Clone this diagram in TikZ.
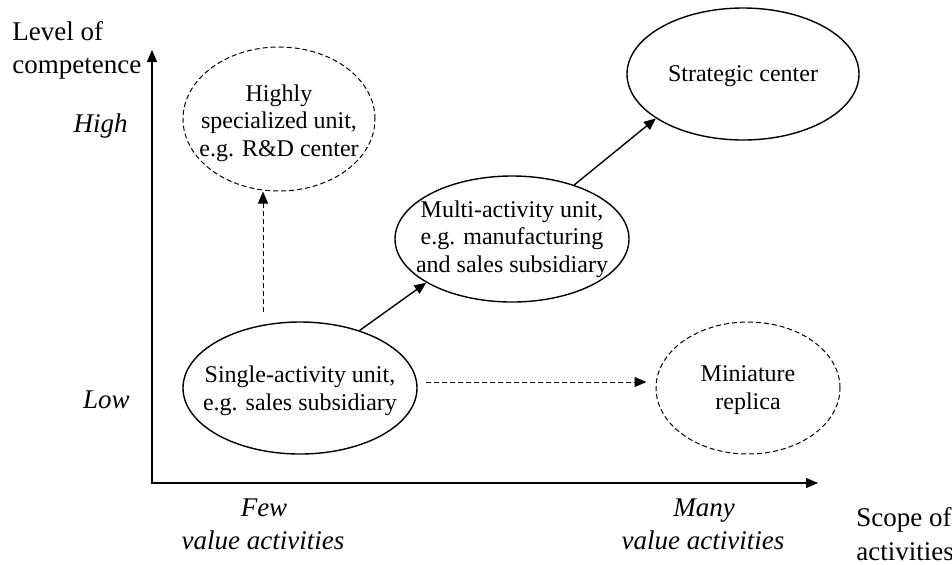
\documentclass[tikz,border=0pt]{standalone}
\usepackage{fontspec}
\setmainfont{Liberation Serif}
\usetikzlibrary{shapes.geometric,arrows.meta}

\begin{document}
\begin{tikzpicture}[x=0.5pt,y=-0.5pt,
  unitbox/.style={ellipse,draw,line width=0.7pt,inner sep=0pt},
  planned/.style={unitbox,line width=0.5pt,dash pattern=on 2.5pt off 1.5pt},
  unittext/.style={align=center,inner sep=0pt,font=\fontsize{12}{13.8}\selectfont},
  axislabel/.style={anchor=base,inner sep=0pt,font=\fontsize{13.5}{16.5}\selectfont},
  upgrade/.style={-{Triangle[length=6pt,width=5pt]},line width=0.7pt},
  possible/.style={upgrade,line width=0.5pt,dash pattern=on 2.5pt off 1.5pt}]
\useasboundingbox (0,0) rectangle (952,564);
\coordinate (origin) at (152,483);
\coordinate (ytip) at (152,50);
\coordinate (xtip) at (818,483);
\draw[{Triangle[length=6pt,width=5pt]}-{Triangle[length=6pt,width=5pt]},line width=0.7pt] (ytip) -- (origin) -- (xtip);
\node[axislabel,anchor=base west] (level) at (12,40) {Level of};
\node[axislabel,anchor=base west] (competence) at (12,73) {competence};
\node[axislabel,anchor=base east,font=\fontsize{13.5}{16.5}\selectfont\itshape] (high) at (128,132) {High};
\node[axislabel,anchor=base east,font=\fontsize{13.5}{16.5}\selectfont\itshape] (low) at (130,408) {Low};
\node[axislabel,font=\fontsize{13.5}{16.5}\selectfont\itshape] (few) at (264,516) {Few};
\node[axislabel,font=\fontsize{13.5}{16.5}\selectfont\itshape] (fewvalue) at (263,549) {value activities};
\node[axislabel,font=\fontsize{13.5}{16.5}\selectfont\itshape] (many) at (704,516) {Many};
\node[axislabel,font=\fontsize{13.5}{16.5}\selectfont\itshape] (manyvalue) at (703,549) {value activities};
\node[axislabel,anchor=base west] (scope) at (856,526) {Scope of};
\node[axislabel,anchor=base west] (activities) at (856,560) {activities};
\node[planned,minimum width=96pt,minimum height=72pt] (highly) at (279,119) {};
\node[unittext] (highlytext) at ([yshift=-2pt]highly.center) {Highly\\specialized unit,\\e.g. R\&D center};
\node[unitbox,minimum width=116pt,minimum height=66pt] (strategic) at (743,74) {};
\node[unittext] (strategictext) at ([yshift=-1pt]strategic.center) {Strategic center};
\node[unitbox,minimum width=117pt,minimum height=63pt] (multi) at (512,239) {};
\node[unittext] (multitext) at (multi) {Multi-activity unit,\\e.g. manufacturing\\and sales subsidiary};
\node[unitbox,minimum width=117pt,minimum height=66pt] (single) at (300,388) {};
\node[unittext] (singletext) at ([yshift=-1.5pt]single.center) {Single-activity unit,\\e.g. sales subsidiary};
\node[planned,minimum width=92pt,minimum height=66pt] (miniature) at (748,388) {};
\node[unittext] (miniaturetext) at ([yshift=-1pt]miniature.center) {Miniature\\replica};
\draw[upgrade] (single.44) -- (multi.207);
\draw[upgrade] (multi.41) -- (strategic.207);
\draw[possible] ([xshift=-18.5pt,yshift=4.5pt]single.north) -- ([xshift=-8pt]highly.south);
\draw[possible] ([xshift=4pt,yshift=3pt]single.east) -- ([xshift=-4.5pt,yshift=3pt]miniature.west);
\end{tikzpicture}
\end{document}
